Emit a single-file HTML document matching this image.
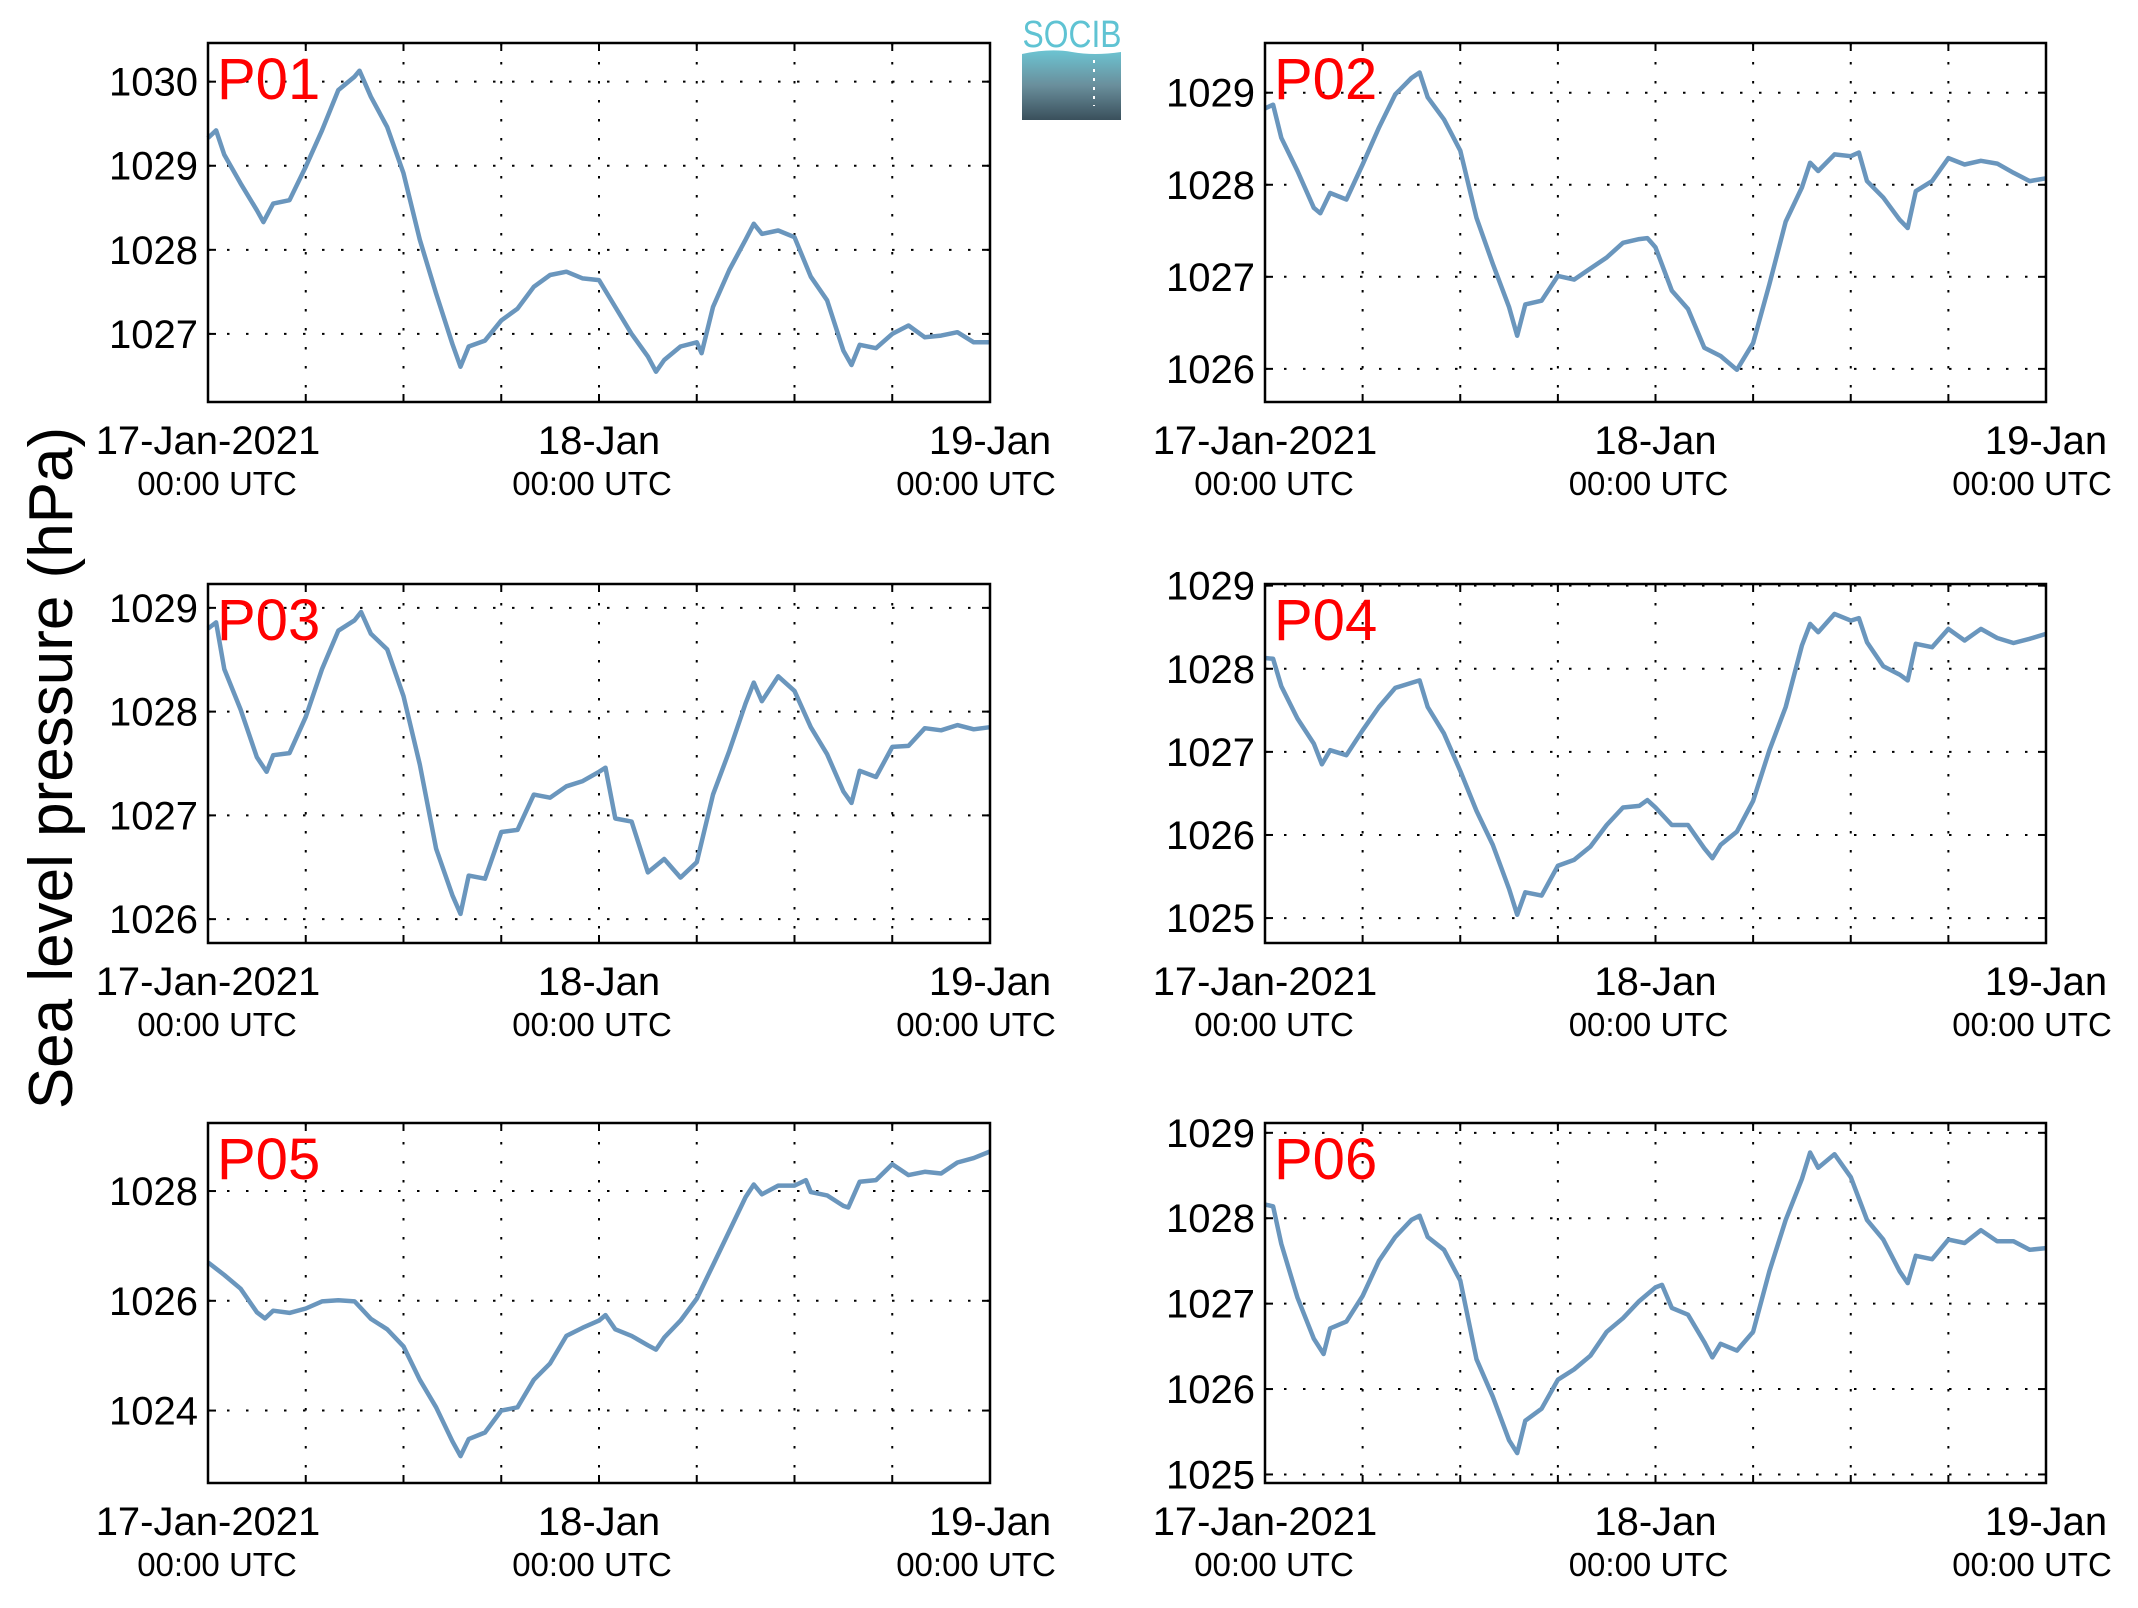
<!DOCTYPE html>
<html><head><meta charset="utf-8">
<style>
html,body{margin:0;padding:0;background:#fff;}
svg{display:block;font-family:"Liberation Sans",Arial,sans-serif;}
</style></head>
<body>
<svg id="chart" width="2138" height="1608" viewBox="0 0 2138 1608" xmlns="http://www.w3.org/2000/svg">
  <defs>
    <linearGradient id="logoGrad" x1="0" y1="0" x2="0" y2="1">
      <stop offset="0" stop-color="#6cc4d2"/>
      <stop offset="0.5" stop-color="#6a8f9c"/>
      <stop offset="1" stop-color="#3a505c"/>
    </linearGradient>
  </defs>
  <g>
    <text x="1072" y="47" font-size="38" fill="#5fc3d3" text-anchor="middle" textLength="99" lengthAdjust="spacingAndGlyphs">SOCIB</text>
    <path d="M1022,54 Q1050,48 1072,52 T1121,52 L1121,120 L1022,120 Z" fill="url(#logoGrad)"/>
    <line x1="1094" y1="60" x2="1094" y2="106" stroke="#fff" stroke-width="2" stroke-dasharray="3,6"/>
  </g>
  <text x="0" y="0" transform="translate(72,768) rotate(-90)" font-size="62" text-anchor="middle">Sea level pressure (hPa)</text>
  <g id="panels"></g>
</svg>
<script>
const timeTickHours = [0, 24, 48];
const timeTickLabels = ["17-Jan-2021", "18-Jan", "19-Jan"];
const timeTickSub = ["00:00 UTC", "00:00 UTC", "00:00 UTC"];
const panelNames = ["P01", "P02", "P03", "P04", "P05", "P06"];

const p01Hours = [0,0.5,1,2,3,3.4,4,5,6,7,8,9,9.3,10,11,12,13,14,15,15.5,16,17,18,19,20,21,22,23,24,25,26,27,27.5,28,29,30,30.3,31,32,33,33.5,34,35,36,37,38,39,39.5,40,41,42,43,44,45,46,47,48];
const p01Values = [1029.33,1029.42,1029.13,1028.79,1028.47,1028.33,1028.55,1028.59,1028.99,1029.42,1029.9,1030.06,1030.13,1029.82,1029.46,1028.91,1028.12,1027.48,1026.88,1026.61,1026.85,1026.92,1027.16,1027.3,1027.56,1027.7,1027.74,1027.66,1027.64,1027.32,1027.0,1026.73,1026.55,1026.69,1026.85,1026.9,1026.77,1027.32,1027.76,1028.12,1028.31,1028.19,1028.23,1028.15,1027.68,1027.4,1026.8,1026.63,1026.87,1026.83,1027.0,1027.1,1026.96,1026.98,1027.02,1026.9,1026.9];
const p01Ticks = [1027, 1028, 1029, 1030];

const p02Hours = [0,0.5,1,2,3,3.4,4,5,6,7,8,9,9.5,10,11,12,13,14,15,15.5,16,17,18,19,20,21,22,23,23.5,24,25,26,27,28,29,30,31,32,33,33.5,34,35,36,36.5,37,38,39,39.5,40,41,42,43,44,45,46,47,48];
const p02Values = [1028.83,1028.87,1028.51,1028.15,1027.75,1027.69,1027.91,1027.84,1028.22,1028.62,1028.98,1029.16,1029.22,1028.95,1028.71,1028.37,1027.64,1027.14,1026.67,1026.36,1026.7,1026.74,1027.01,1026.97,1027.09,1027.21,1027.37,1027.41,1027.42,1027.32,1026.85,1026.65,1026.23,1026.14,1025.99,1026.28,1026.92,1027.6,1027.97,1028.24,1028.15,1028.33,1028.31,1028.35,1028.04,1027.86,1027.62,1027.53,1027.93,1028.04,1028.29,1028.22,1028.26,1028.23,1028.13,1028.04,1028.07];
const p02Ticks = [1026, 1027, 1028, 1029];

const p03Hours = [0,0.5,1,2,3,3.6,4,5,6,7,8,9,9.4,10,11,12,13,14,15,15.5,16,17,18,19,20,21,22,23,24,24.4,25,26,27,28,29,30,31,32,33,33.5,34,35,36,37,38,39,39.5,40,41,42,43,44,45,46,47,48];
const p03Values = [1028.8,1028.86,1028.41,1028.02,1027.56,1027.42,1027.58,1027.6,1027.95,1028.41,1028.78,1028.88,1028.96,1028.75,1028.6,1028.15,1027.49,1026.68,1026.23,1026.05,1026.42,1026.39,1026.84,1026.86,1027.2,1027.17,1027.28,1027.33,1027.42,1027.46,1026.97,1026.94,1026.45,1026.58,1026.4,1026.55,1027.2,1027.62,1028.08,1028.28,1028.1,1028.34,1028.2,1027.85,1027.59,1027.23,1027.12,1027.43,1027.37,1027.66,1027.67,1027.84,1027.82,1027.87,1027.83,1027.85];
const p03Ticks = [1026, 1027, 1028, 1029];

const p04Hours = [0,0.5,1,2,3,3.5,4,5,6,7,8,9,9.5,10,11,12,13,14,15,15.5,16,17,18,19,20,21,22,23,23.5,24,25,26,27,27.5,28,29,30,31,32,33,33.5,34,35,36,36.5,37,38,39,39.5,40,41,42,43,44,45,46,47,48];
const p04Values = [1028.13,1028.12,1027.79,1027.4,1027.1,1026.85,1027.02,1026.96,1027.26,1027.54,1027.77,1027.83,1027.86,1027.54,1027.22,1026.77,1026.29,1025.88,1025.35,1025.04,1025.31,1025.27,1025.63,1025.7,1025.86,1026.12,1026.33,1026.35,1026.42,1026.33,1026.12,1026.12,1025.84,1025.72,1025.88,1026.04,1026.41,1027.02,1027.54,1028.28,1028.54,1028.44,1028.66,1028.58,1028.61,1028.32,1028.03,1027.93,1027.86,1028.3,1028.26,1028.48,1028.34,1028.48,1028.37,1028.31,1028.36,1028.42];
const p04Ticks = [1025, 1026, 1027, 1028, 1029];

const p05Hours = [0,1,2,3,3.5,4,5,6,7,8,9,10,11,12,13,14,15,15.5,16,17,18,19,20,21,22,23,24,24.4,25,26,27,27.5,28,29,30,31,32,33,33.5,34,35,36,36.7,37,38,39,39.3,40,41,42,43,44,45,46,47,48];
const p05Values = [1026.7,1026.47,1026.22,1025.79,1025.68,1025.82,1025.78,1025.86,1025.99,1026.01,1025.99,1025.67,1025.48,1025.17,1024.56,1024.06,1023.44,1023.17,1023.48,1023.6,1024.0,1024.06,1024.56,1024.86,1025.36,1025.51,1025.64,1025.74,1025.48,1025.36,1025.19,1025.11,1025.33,1025.64,1026.04,1026.65,1027.27,1027.89,1028.12,1027.94,1028.1,1028.1,1028.2,1027.98,1027.92,1027.73,1027.7,1028.17,1028.2,1028.49,1028.29,1028.35,1028.32,1028.52,1028.6,1028.72];
const p05Ticks = [1024, 1026, 1028];

const p06Hours = [0,0.5,1,2,3,3.6,4,5,6,7,8,9,9.5,10,11,12,13,14,15,15.5,16,17,18,19,20,21,22,23,24,24.4,25,26,27,27.5,28,29,30,31,32,33,33.5,34,35,36,37,38,39,39.5,40,41,42,43,44,45,46,47,48];
const p06Values = [1028.16,1028.14,1027.7,1027.07,1026.59,1026.41,1026.71,1026.79,1027.09,1027.5,1027.78,1027.98,1028.03,1027.78,1027.63,1027.27,1026.35,1025.91,1025.4,1025.25,1025.63,1025.77,1026.11,1026.23,1026.39,1026.67,1026.83,1027.03,1027.19,1027.22,1026.95,1026.87,1026.55,1026.37,1026.53,1026.45,1026.67,1027.38,1027.98,1028.46,1028.77,1028.59,1028.75,1028.48,1027.98,1027.75,1027.38,1027.24,1027.56,1027.52,1027.75,1027.71,1027.86,1027.73,1027.73,1027.63,1027.65];
const p06Ticks = [1025, 1026, 1027, 1028, 1029];

const panelHours = [p01Hours, p02Hours, p03Hours, p04Hours, p05Hours, p06Hours];
const panelValues = [p01Values, p02Values, p03Values, p04Values, p05Values, p06Values];
const panelTicks = [p01Ticks, p02Ticks, p03Ticks, p04Ticks, p05Ticks, p06Ticks];
// axis domains (layout)
const panelYMin = [1026.19, 1025.64, 1025.77, 1024.70, 1022.68, 1024.90];
const panelYMax = [1030.46, 1029.54, 1029.23, 1029.02, 1029.24, 1029.115];

const NS = "http://www.w3.org/2000/svg";
const root = document.getElementById("panels");
const colX = [[208, 990], [1265, 2046]];
const rowY = [[43, 402], [584, 943], [1123, 1483]];

function mk(tag, attrs, parent) {
  const e = document.createElementNS(NS, tag);
  for (const k in attrs) e.setAttribute(k, attrs[k]);
  parent.appendChild(e);
  return e;
}

for (let p = 0; p < 6; p++) {
  const [x0, x1] = colX[p % 2];
  const [y0, y1] = rowY[Math.floor(p / 2)];
  const ymin = panelYMin[p], ymax = panelYMax[p];
  const xs = h => x0 + (h / 48) * (x1 - x0);
  const ys = v => y1 - (v - ymin) / (ymax - ymin) * (y1 - y0);
  const g = mk("g", {}, root);
  
  

  for (let h = 6; h < 48; h += 6) {
    const gl = mk("line", {x1: xs(h), x2: xs(h), y1: y0, y2: y1, stroke: "#000", "stroke-width": 2, "stroke-dasharray": "2.5,16.5"}, g);
    
    
    const t1 = mk("line", {x1: xs(h), x2: xs(h), y1: y1, y2: y1 - 8, stroke: "#000", "stroke-width": 2}, g);
    
    
    const t2 = mk("line", {x1: xs(h), x2: xs(h), y1: y0, y2: y0 + 8, stroke: "#000", "stroke-width": 2}, g);
    
    
  }
  panelTicks[p].forEach(v => {
    const y = ys(v);
    const gl = mk("line", {x1: x0, x2: x1, y1: y, y2: y, stroke: "#000", "stroke-width": 2, "stroke-dasharray": "2.5,16.5"}, g);
    
    
    const tl = mk("line", {x1: x0, x2: x0 + 8, y1: y, y2: y, stroke: "#000", "stroke-width": 2}, g);
    
    
    const tr = mk("line", {x1: x1 - 8, x2: x1, y1: y, y2: y, stroke: "#000", "stroke-width": 2}, g);
    
    
    const lab = mk("text", {x: x0 - 10, y: y + 14, "font-size": 40, "text-anchor": "end"}, g);
    
    
    lab.textContent = String(v);
  });
  const hrs = panelHours[p], vals = panelValues[p];
  let d = "";
  for (let i = 0; i < hrs.length; i++) d += (i ? "L" : "M") + xs(hrs[i]).toFixed(1) + "," + ys(vals[i]).toFixed(1);
  const path = mk("path", {d: d, fill: "none", stroke: "#6a96bd", "stroke-width": 4.5, "stroke-linejoin": "round"}, g);
  
  
  const fr = mk("rect", {x: x0, y: y0, width: x1 - x0, height: y1 - y0, fill: "none", stroke: "#000", "stroke-width": 2.5}, g);
  
  
  const st = mk("text", {x: x0 + 9, y: y0 + 56, "font-size": 58, fill: "#ff0000"}, g);
  
  
  st.textContent = panelNames[p];
  timeTickHours.forEach((h, i) => {
    const t = mk("text", {x: xs(h), y: y1 + 52, "font-size": 40, "text-anchor": "middle"}, g);
    
    
    t.textContent = timeTickLabels[i];
    const s = mk("text", {x: xs(h) + (i === 0 ? 9 : (i === 1 ? -7 : -14)), y: y1 + 93, "font-size": 33, "text-anchor": "middle"}, g);
    
    
    s.textContent = timeTickSub[i];
  });
}
</script>
</body></html>
